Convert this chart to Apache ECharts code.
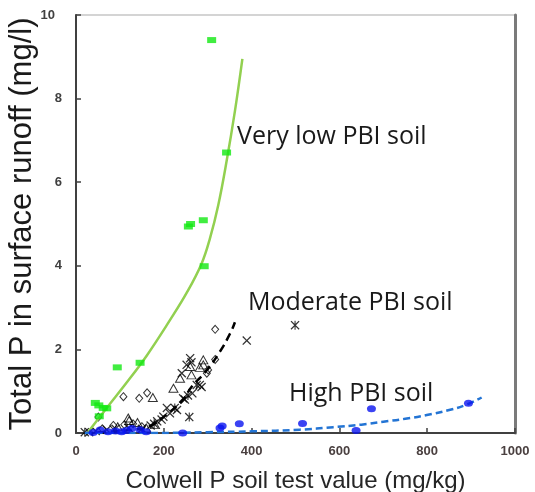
<!DOCTYPE html>
<html>
<head>
<meta charset="utf-8">
<script src="https://cdn.jsdelivr.net/npm/echarts@6/dist/echarts.min.js"></script>
<style>html,body{margin:0;padding:0;background:#fff;}#chart{width:535px;height:492px;}</style>
</head>
<body>
<div id="chart"></div>
<script>
// ---- data (Colwell P mg/kg, Total P mg/l) ----
var xTicks = [0, 200, 400, 600, 800, 1000];
var yTicks = [0, 2, 4, 6, 8, 10];

var veryLowPoints = [[309,9.40],[343,6.71],[256,4.94],[261,5.00],[290,5.09],[292,3.99],[94,1.57],[146,1.68],[44,0.72],[52,0.66],[62,0.60],[70,0.59],[53,0.40]];
var veryLowCurve = [[28,0.03],[70,0.60],[115,1.20],[161,1.85],[214,2.70],[252,3.35],[286,4.05],[305,4.65],[324,5.45],[343,6.50],[362,7.70],[379,8.95]];

var highPoints = [[39,0.01],[55,0.07],[73,0.03],[90,0.05],[104,0.03],[115,0.06],[127,0.11],[146,0.08],[160,0.03],[243,0.00],[328,0.12],[333,0.17],[372,0.22],[516,0.23],[638,0.06],[673,0.58],[894,0.71]];
var highCurve = [[20,0.00],[170,0.00],[300,0.02],[400,0.04],[510,0.08],[586,0.14],[650,0.20],[700,0.27],[750,0.34],[799,0.43],[850,0.55],[890,0.68],[924,0.85]];

var modDiamonds = [[51,0.38],[108,0.87],[144,0.83],[162,0.96],[298,1.43],[301,1.51],[317,1.76],[317,2.48],[85,0.18],[110,0.20],[130,0.22],[60,0.10],[150,0.15]];
var modTriangles = [[119,0.36],[121,0.30],[175,0.85],[222,1.07],[237,1.31],[260,1.59],[263,1.39],[282,1.57],[290,1.75],[290,1.63],[180,0.20],[140,0.25],[95,0.15],[160,0.12]];
var modCrosses = [[207,0.60],[214,0.47],[199,0.39],[244,0.83],[241,1.43],[252,1.63],[260,1.79],[263,1.69],[282,1.15],[286,1.10],[389,2.21],[30,0.02],[45,0.05],[70,0.08],[90,0.10],[120,0.12],[150,0.10],[170,0.18],[185,0.28],[195,0.32],[230,0.55],[248,0.80],[265,0.95]];
var modAsterisks = [[258,0.38],[499,2.58],[178,0.22],[225,0.60],[255,0.90],[275,1.15],[20,0.02]];
var modCurve = [[20,0.00],[80,0.03],[130,0.08],[169,0.17],[207,0.45],[244,0.80],[263,1.10],[298,1.50],[328,1.95],[351,2.38],[362,2.65]];

var labels = ['Very low PBI soil', 'Moderate PBI soil', 'High PBI soil'];
var xTitle = 'Colwell P soil test value (mg/kg)';
var yTitle = 'Total P in surface runoff (mg/l)';

// ---- chart ----
var crossPath = 'path://M0,1 L1,0 L5,4 L9,0 L10,1 L6,5 L10,9 L9,10 L5,6 L1,10 L0,9 L4,5 Z';
var asteriskPath = 'path://M0,1 L1,0 L5,4 L9,0 L10,1 L6,5 L10,9 L9,10 L5,6 L1,10 L0,9 L4,5 Z M4.4,0 L5.6,0 L5.6,10 L4.4,10 Z';
var openStyle = {color: 'rgba(255,255,255,0)', borderColor: '#000', borderWidth: 1};

var chart = echarts.init(document.getElementById('chart'), null, {renderer: 'canvas'});
chart.setOption({
  animation: false,
  backgroundColor: '#fff',
  grid: {left: 76, right: 20, top: 15, bottom: 59, show: true, borderColor: '#d4d4d4', borderWidth: 2,
    containLabel: false, outerBoundsMode: 'none'},
  xAxis: {
    type: 'value', min: xTicks[0], max: xTicks[xTicks.length - 1], interval: 200,
    name: xTitle, nameLocation: 'middle', nameGap: 36, nameMoveOverlap: false,
    nameTextStyle: {fontFamily: 'Liberation Sans, Arial', fontSize: 24, color: '#262626'},
    axisLine: {lineStyle: {color: '#404040', width: 2}},
    axisTick: {inside: true, length: 5, lineStyle: {color: '#404040', width: 1.5}},
    axisLabel: {margin: 12, fontFamily: 'Liberation Sans, Arial', fontSize: 13, fontWeight: 'bold', color: '#4a4040',
      formatter: function (v) { return String(v); }},
    splitLine: {show: false}
  },
  yAxis: [{
    type: 'value', min: yTicks[0], max: yTicks[yTicks.length - 1], interval: 2,
    name: yTitle, nameLocation: 'middle', nameGap: 38, nameMoveOverlap: false,
    nameTextStyle: {fontFamily: 'Liberation Sans, Arial', fontSize: 31, color: '#1a1a1a'},
    axisLine: {lineStyle: {color: '#404040', width: 2}},
    axisTick: {inside: true, length: 5, lineStyle: {color: '#404040', width: 1.5}},
    axisLabel: {margin: 14, fontFamily: 'Liberation Sans, Arial', fontSize: 13, fontWeight: 'bold', color: '#404040',
      formatter: function (v) { return v === 10 ? '{a|10}' : String(v); },
      rich: {a: {padding: [0, 7, 0, 0], fontFamily: 'Liberation Sans, Arial', fontSize: 13, fontWeight: 'bold', color: '#404040'}}},
    splitLine: {show: false}
  }, {
    type: 'value', position: 'right', min: 0, max: 10,
    axisLine: {show: true, lineStyle: {color: '#7a7a7a', width: 3}},
    axisTick: {show: false}, axisLabel: {show: false}, splitLine: {show: false}
  }],
  series: [
    {type: 'line', data: modCurve, smooth: true, symbol: 'none', z: 3,
      lineStyle: {color: '#000', width: 2.5, type: [8, 5]}},
    {type: 'scatter', data: modDiamonds, symbol: 'diamond', symbolSize: [7, 8], itemStyle: openStyle, z: 4},
    {type: 'scatter', data: modTriangles, symbol: 'triangle', symbolSize: [9, 8], itemStyle: openStyle, z: 4},
    {type: 'scatter', data: modCrosses, symbol: crossPath, symbolSize: 9, itemStyle: {color: '#000'}, z: 4},
    {type: 'scatter', data: modAsterisks, symbol: asteriskPath, symbolSize: 9, itemStyle: {color: '#000'}, z: 4},
    {type: 'line', data: veryLowCurve, smooth: 0.4, symbol: 'none', z: 5,
      lineStyle: {color: '#92d050', width: 2.5}},
    {type: 'scatter', data: veryLowPoints, symbol: 'rect', symbolSize: [9, 6], itemStyle: {color: '#12e812'}, z: 6},
    {type: 'line', data: highCurve, smooth: true, symbol: 'none', z: 5,
      lineStyle: {color: '#2374d4', width: 2.5, type: [7, 4]}},
    {type: 'scatter', data: highPoints, symbol: 'circle', symbolSize: [9, 7], itemStyle: {color: '#0a14f0'}, z: 6}
  ],
  graphic: [
    {type: 'text', left: 237, top: 124, style: {text: labels[0], fontFamily: 'Open Sans', fontSize: 25, fill: '#1a1a1a'}},
    {type: 'text', left: 248, top: 290, style: {text: labels[1], fontFamily: 'Open Sans', fontSize: 25, fill: '#1a1a1a'}},
    {type: 'text', left: 289, top: 381, style: {text: labels[2], fontFamily: 'Open Sans', fontSize: 25, fill: '#1a1a1a'}}
  ]
});
</script>
</body>
</html>
